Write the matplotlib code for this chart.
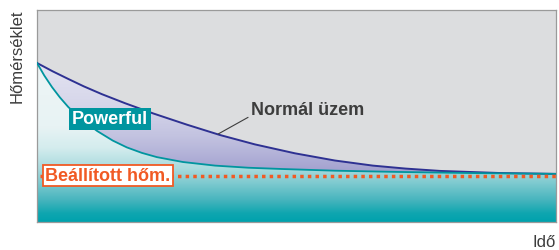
import numpy as np
import matplotlib
matplotlib.use("Agg")
import matplotlib.pyplot as plt
from matplotlib.colors import LinearSegmentedColormap

plt.rcParams['font.family'] = ['Liberation Sans', 'DejaVu Sans']

# time axis 0..100, temperature 0..100 (arbitrary units, no ticks)
time_normal = [0, 3, 6, 9, 12.5, 17, 22.4, 28.9, 35.3, 42, 49.7, 57.4, 64.7, 71, 77.6, 89.2, 100]
temp_normal = [75, 71.1, 67.5, 64.0, 60.3, 56.0, 51.2, 45.9, 41.0, 36.6, 32.4, 29.0, 26.6, 25.2, 24.1, 23.1, 22.7]

time_powerful = [0, 1.4, 2.9, 4.4, 6.0, 8.3, 11.6, 14.6, 17.3, 20.2, 23.1, 28.1,
                 34.3, 40.7, 47.2, 57.4, 69.9, 83.4, 100]
temp_powerful = [75, 69.1, 63.6, 58.8, 54.3, 49.0, 42.9, 38.4, 35.2, 32.6, 30.6, 28.3,
                 26.6, 25.6, 25.0, 24.2, 23.6, 23.1, 22.7]

setpoint = 21.6

label_normal = "Normál üzem"
label_powerful = "Powerful"
label_setpoint = "Beállított hőm."
xlabel = "Idő"
ylabel = "Hőmérséklet"

fig = plt.figure(figsize=(5.59, 2.51), dpi=100)
ax = fig.add_axes([37/559, 28/251, 519/559, 212/251])
ax.set_xlim(0, 100)
ax.set_ylim(0, 100)
ax.set_facecolor('#dcdddf')
ax.set_xticks([])
ax.set_yticks([])
for s in ax.spines.values():
    s.set_color('#9a9a9a')
    s.set_linewidth(0.9)

grad = np.linspace(0, 1, 256).reshape(-1, 1)

# purple gradient between curves (clipped under the normal curve)
purple = LinearSegmentedColormap.from_list('p', [
    (0.0, '#9a98c9'), (0.22, '#9f9dcc'), (0.30, '#afaed6'), (0.40, '#c2c2e0'),
    (0.55, '#d6d6ea'), (0.75, '#e4e4f1'), (1.0, '#e8e8f3')])
poly_n = ax.fill_between(time_normal, temp_normal, 0, color='none', lw=0)
im1 = ax.imshow(grad, extent=[0, 100, 0, 100], origin='lower', aspect='auto',
                cmap=purple, zorder=1)
im1.set_clip_path(poly_n.get_paths()[0], transform=ax.transData)

# teal gradient under the powerful curve
teal = LinearSegmentedColormap.from_list('t', [
    (0.0, '#00a2ad'), (0.04, '#0fa6b0'), (0.10, '#45b4bd'), (0.18, '#7cc9cf'),
    (0.25, '#a8dadd'), (0.35, '#d4ecee'), (0.45, '#e8f3f4'), (0.75, '#eef5f6'),
    (1.0, '#eef5f6')])
poly_p = ax.fill_between(time_powerful, temp_powerful, 0, color='none', lw=0)
im2 = ax.imshow(grad, extent=[0, 100, 0, 100], origin='lower', aspect='auto',
                cmap=teal, zorder=2)
im2.set_clip_path(poly_p.get_paths()[0], transform=ax.transData)

ax.plot(time_normal, temp_normal, color='#2e3192', lw=1.4, zorder=4,
        solid_joinstyle='round')
ax.plot(time_powerful, temp_powerful, color='#00959f', lw=1.3, zorder=4,
        solid_joinstyle='round')
ax.axhline(setpoint, xmin=0.005, xmax=1, color='#f15a24', lw=2.5,
           linestyle=(0, (1, 1.2)), zorder=5)

ax.text(14.1, 48.6, label_powerful, color='white', fontsize=13, fontweight='bold',
        ha='center', va='center', zorder=6,
        bbox=dict(boxstyle='square,pad=0.15', fc='#00959f', ec='none'))

ax.text(13.7, setpoint + 0.4, label_setpoint, color='#f15a24', fontsize=13,
        fontweight='bold', ha='center', va='center', zorder=6,
        bbox=dict(boxstyle='square,pad=0.12', fc='white', ec='#f15a24', lw=1.3))

ax.annotate(label_normal, xy=(34.9, 41.5), xytext=(41.2, 53.3),
            color='#3d3d3d', fontsize=13, fontweight='bold', va='center', ha='left',
            zorder=6,
            arrowprops=dict(arrowstyle='-', color='#3d3d3d', lw=0.8,
                            relpos=(0, 0.1), shrinkA=0, shrinkB=0))

fig.text(556/559, 1 - 243/251, xlabel, color='#3d3d3d', fontsize=12,
         ha='right', va='center')
fig.text(17/559, 1 - 56/251, ylabel, color='#3d3d3d', fontsize=12,
         ha='center', va='center', rotation=90)

fig.savefig('out.png', dpi=100)
